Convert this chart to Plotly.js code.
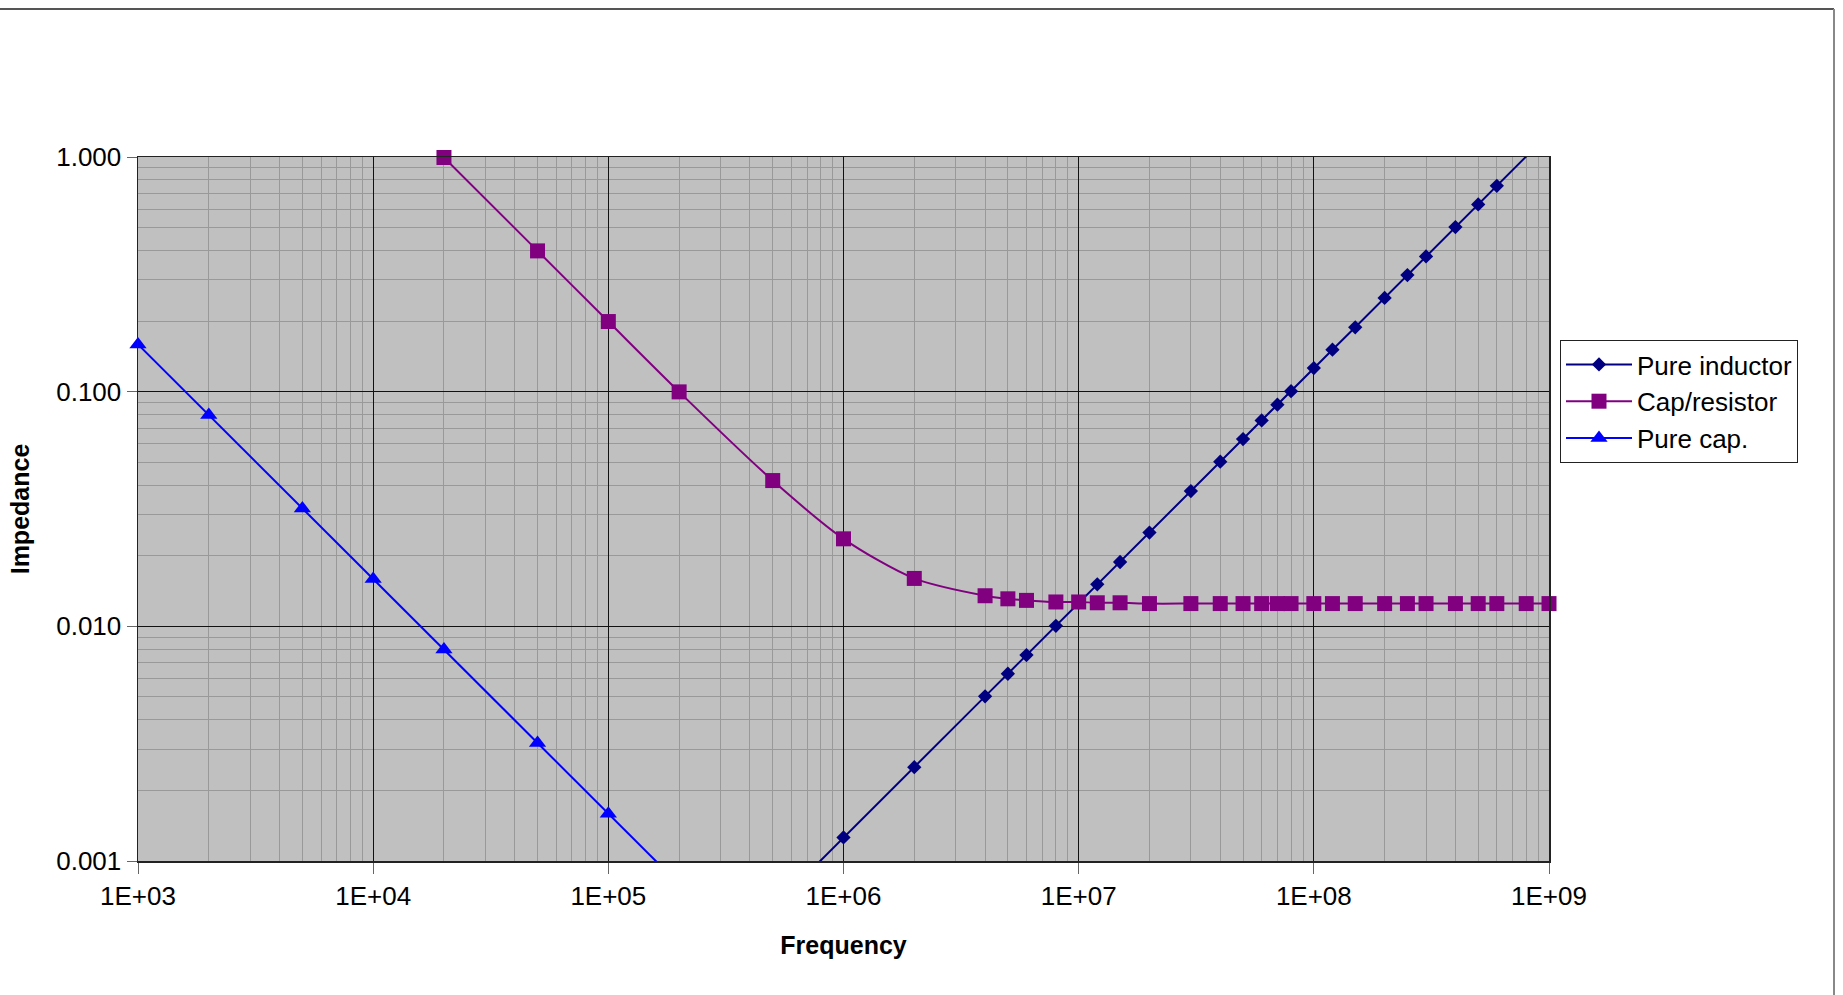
<!DOCTYPE html>
<html>
<head>
<meta charset="utf-8">
<script src="https://cdn.plot.ly/plotly-3.0.1.min.js"></script>
<style>
html,body{margin:0;padding:0;background:#fff;}
#chart{width:1843px;height:995px;}
</style>
</head>
<body>
<div id="chart"></div>
<script>
// Pure inductor
var indFreq = [5e5, 1e6, 2e6, 4e6, 5e6, 6e6, 8e6, 1e7, 1.2e7, 1.5e7, 2e7, 3e7, 4e7, 5e7, 6e7, 7e7, 8e7, 1e8, 1.2e8, 1.5e8, 2e8, 2.5e8, 3e8, 4e8, 5e8, 6e8, 1e9];
var indZ = [0.000628, 0.00126, 0.00251, 0.00503, 0.00628, 0.00754, 0.01005, 0.0126, 0.0151, 0.0188, 0.0251, 0.0377, 0.0503, 0.0628, 0.0754, 0.0880, 0.1005, 0.126, 0.151, 0.188, 0.251, 0.314, 0.377, 0.503, 0.628, 0.754, 1.257];

// Cap/resistor
var crFreq = [2e4, 5e4, 1e5, 2e5, 5e5, 1e6, 2e6, 4e6, 5e6, 6e6, 8e6, 1e7, 1.2e7, 1.5e7, 2e7, 3e7, 4e7, 5e7, 6e7, 7e7, 8e7, 1e8, 1.2e8, 1.5e8, 2e8, 2.5e8, 3e8, 4e8, 5e8, 6e8, 8e8, 1e9];
var crZ = [0.995, 0.398, 0.199, 0.0998, 0.0418, 0.0236, 0.0160, 0.0135, 0.0131, 0.0129, 0.0127, 0.0127, 0.0126, 0.0126, 0.0125, 0.0125, 0.0125, 0.0125, 0.0125, 0.0125, 0.0125, 0.0125, 0.0125, 0.0125, 0.0125, 0.0125, 0.0125, 0.0125, 0.0125, 0.0125, 0.0125, 0.0125];

// Pure cap.
var capFreq = [1e3, 2e3, 5e3, 1e4, 2e4, 5e4, 1e5, 2e5];
var capZ = [0.159, 0.0796, 0.0318, 0.0159, 0.00796, 0.00318, 0.00159, 0.000796];

var seriesNames = ['Pure inductor', 'Cap/resistor', 'Pure cap.'];

var xTickVals = [1e3, 1e4, 1e5, 1e6, 1e7, 1e8, 1e9];
var xTickText = ['1E+03', '1E+04', '1E+05', '1E+06', '1E+07', '1E+08', '1E+09'];
var yTickVals = [0.001, 0.01, 0.1, 1];
var yTickText = ['0.001', '0.010', '0.100', '1.000'];

var xTitle = 'Frequency';
var yTitle = 'Impedance';

var traces = [
  {x: indFreq, y: indZ, name: seriesNames[0], type: 'scatter', mode: 'lines+markers', cliponaxis: false,
   line: {color: '#000080', width: 2},
   marker: {symbol: 'diamond', size: 11, color: '#000080'}},
  {x: crFreq, y: crZ, name: seriesNames[1], type: 'scatter', mode: 'lines+markers', cliponaxis: false,
   line: {color: '#800080', width: 2, shape: 'spline', smoothing: 0.8},
   marker: {symbol: 'square', size: 15, color: '#800080'}},
  {x: capFreq, y: capZ, name: seriesNames[2], type: 'scatter', mode: 'lines+markers', cliponaxis: false,
   line: {color: '#0000ff', width: 2},
   marker: {symbol: 'triangle-up', size: 15, color: '#0000ff'}}
];

var tickFont = {family: 'Liberation Sans Narrow, Liberation Sans, Arial, sans-serif', size: 26, color: '#000'};
var titleFont = {family: 'Liberation Sans, Arial, sans-serif', size: 25, color: '#000', weight: 'bold'};

var L = 138, R = 1549, T = 157, B = 861, W = 1843, H = 995;
var pw = R - L, ph = B - T;
function px(x){ return (x - L) / pw; }
function py(y){ return (B - y) / ph; }

var layout = {
  width: W, height: H,
  margin: {l: L, r: W - R, t: T, b: H - B, pad: 0},
  paper_bgcolor: '#ffffff',
  plot_bgcolor: '#c0c0c0',
  showlegend: true,
  xaxis: {
    type: 'log', range: [2.99998, 9.00002],
    tickmode: 'array', tickvals: xTickVals, ticktext: xTickText,
    tickfont: tickFont, ticks: 'outside', ticklen: 11, tickcolor: '#666', tickwidth: 1,
    showgrid: true, gridcolor: '#111', gridwidth: 1,
    minor: {dtick: 'D1', showgrid: true, gridcolor: '#999999', gridwidth: 1, ticks: ''},
    showline: true, linecolor: '#222', linewidth: 1.5, mirror: true,
    zeroline: false, automargin: false,
    title: {text: xTitle, font: titleFont, standoff: 27}
  },
  yaxis: {
    type: 'log', range: [-3, 0],
    tickmode: 'array', tickvals: yTickVals, ticktext: yTickText,
    tickfont: tickFont, ticks: 'outside', ticklen: 10, tickcolor: '#666', tickwidth: 1,
    showgrid: true, gridcolor: '#111', gridwidth: 1,
    minor: {dtick: 'D1', showgrid: true, gridcolor: '#999999', gridwidth: 1, ticks: ''},
    showline: true, linecolor: '#222', linewidth: 1.5, mirror: true,
    zeroline: false, automargin: true,
    title: {text: yTitle, font: titleFont, standoff: 19}
  },
  legend: {
    x: px(1560), y: py(340), xanchor: 'left', yanchor: 'top',
    bgcolor: '#ffffff', bordercolor: '#222', borderwidth: 1,
    font: {family: 'Liberation Sans, Arial, sans-serif', size: 26, color: '#000'},
    itemwidth: 66, tracegroupgap: 0
  },
  shapes: [
    {type: 'line', xref: 'paper', yref: 'paper', x0: px(0), x1: px(1834), y0: py(9), y1: py(9),
     line: {color: '#555', width: 2}},
    {type: 'line', xref: 'paper', yref: 'paper', x0: px(1834), x1: px(1834), y0: py(9), y1: py(995),
     line: {color: '#888', width: 2}}
  ]
};

Plotly.newPlot('chart', traces, layout, {displayModeBar: false, staticPlot: true});
</script>
</body>
</html>
